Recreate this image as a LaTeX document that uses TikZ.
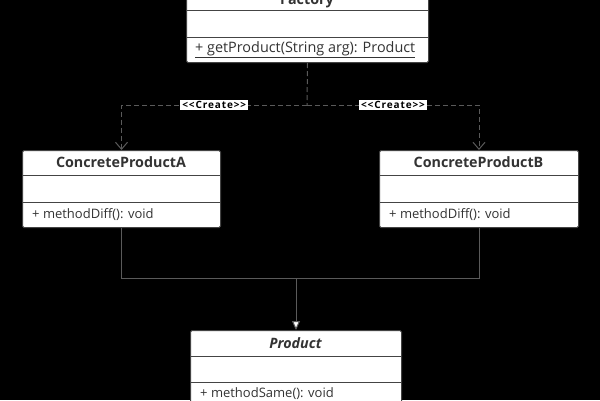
\documentclass[tikz,border=0pt]{standalone}
\usepackage{fontspec}
\setmainfont{Open Sans}
\usetikzlibrary{arrows.meta}
\definecolor{txt}{HTML}{333333}
\definecolor{bord}{HTML}{444444}
\definecolor{conn}{HTML}{5A5A5A}
\begin{document}
\begin{tikzpicture}[x=1pt,y=-1pt,
  box/.style={draw=bord, fill=white, line width=1pt, rounded corners=1.5pt, inner sep=0pt, anchor=north west},
  divline/.style={draw=bord, line width=1pt},
  ttl/.style={text=txt, font=\fontsize{14.3}{16}\selectfont\bfseries, inner sep=0pt},
  meth/.style={text=txt, font=\fontsize{13}{15}\selectfont, inner sep=0pt, anchor=west},
  dashconn/.style={draw=conn, line width=1pt, dash pattern=on 5pt off 3pt},
  solidconn/.style={draw=conn, line width=1pt},
  createlbl/.style={fill=white, text=black, font=\fontsize{10}{11}\selectfont\bfseries\addfontfeature{LetterSpace=9}, inner xsep=2pt, inner ysep=1.5pt},
  openarrow/.style={-{Straight Barb[length=7pt,width=12pt,line width=1pt]}},
  inharrow/.style={-{Triangle[length=9pt,width=8pt,fill=white,line width=1pt]}}
]
\fill[black] (0,0) rectangle (600,400);
\clip (0,0) rectangle (600,400);
\useasboundingbox (0,0) rectangle (600,400);

% Factory
\node[box, minimum width=242pt, minimum height=77pt] (fac) at (186,-15) {};
\draw[divline] (186,10) -- (428,10);
\draw[divline] (186,37) -- (428,37);
\node[ttl, anchor=base] (factitle) at (307,4.5) {Factory};
\node[meth, font=\fontsize{14.4}{16}\selectfont] (facm) at (195,49.5) {\underline{+ getProduct(String arg): Product}};

% ConcreteProductA
\node[box, minimum width=198pt, minimum height=77pt] (cpa) at (22,150) {};
\draw[divline] (22,175) -- (220,175);
\draw[divline] (22,202) -- (220,202);
\node[ttl] (cpatitle) at (121,162.5) {ConcreteProductA};
\node[meth] (cpam) at (32,214.5) {+ methodDiff(): void};

% ConcreteProductB
\node[box, minimum width=199pt, minimum height=77pt] (cpb) at (379,150) {};
\draw[divline] (379,175) -- (578,175);
\draw[divline] (379,202) -- (578,202);
\node[ttl] (cpbtitle) at (478.5,162.5) {ConcreteProductB};
\node[meth] (cpbm) at (389,214.5) {+ methodDiff(): void};

% Product
\node[box, minimum width=211pt, minimum height=80pt] (prod) at (190,330) {};
\draw[divline] (190,356) -- (401,356);
\draw[divline] (190,382) -- (401,382);
\node[ttl, font=\fontsize{14.3}{16}\selectfont\bfseries\itshape] (prodtitle) at (295.5,343) {Product};
\node[meth] (prodm) at (200,394) {+ methodSame(): void};

% dashed create connectors
\coordinate (j1) at (307,105);
\draw[dashconn] (fac.south) -- (j1);
\draw[dashconn, openarrow] (j1) -| (cpa.north) node[pos=0.25, createlbl, solid] (lbla) {<{}<Create>{}>};
\draw[dashconn, openarrow] (j1) -| (cpb.north) node[pos=0.25, createlbl, solid] (lblb) {<{}<Create>{}>};

% inheritance connectors
\coordinate (j2) at (prod.north |- 0,278);
\draw[solidconn] (cpa.south) -- (cpa.south |- j2) -| (cpb.south);
\draw[solidconn, inharrow] (j2) -- (prod.north);
\end{tikzpicture}
\end{document}
